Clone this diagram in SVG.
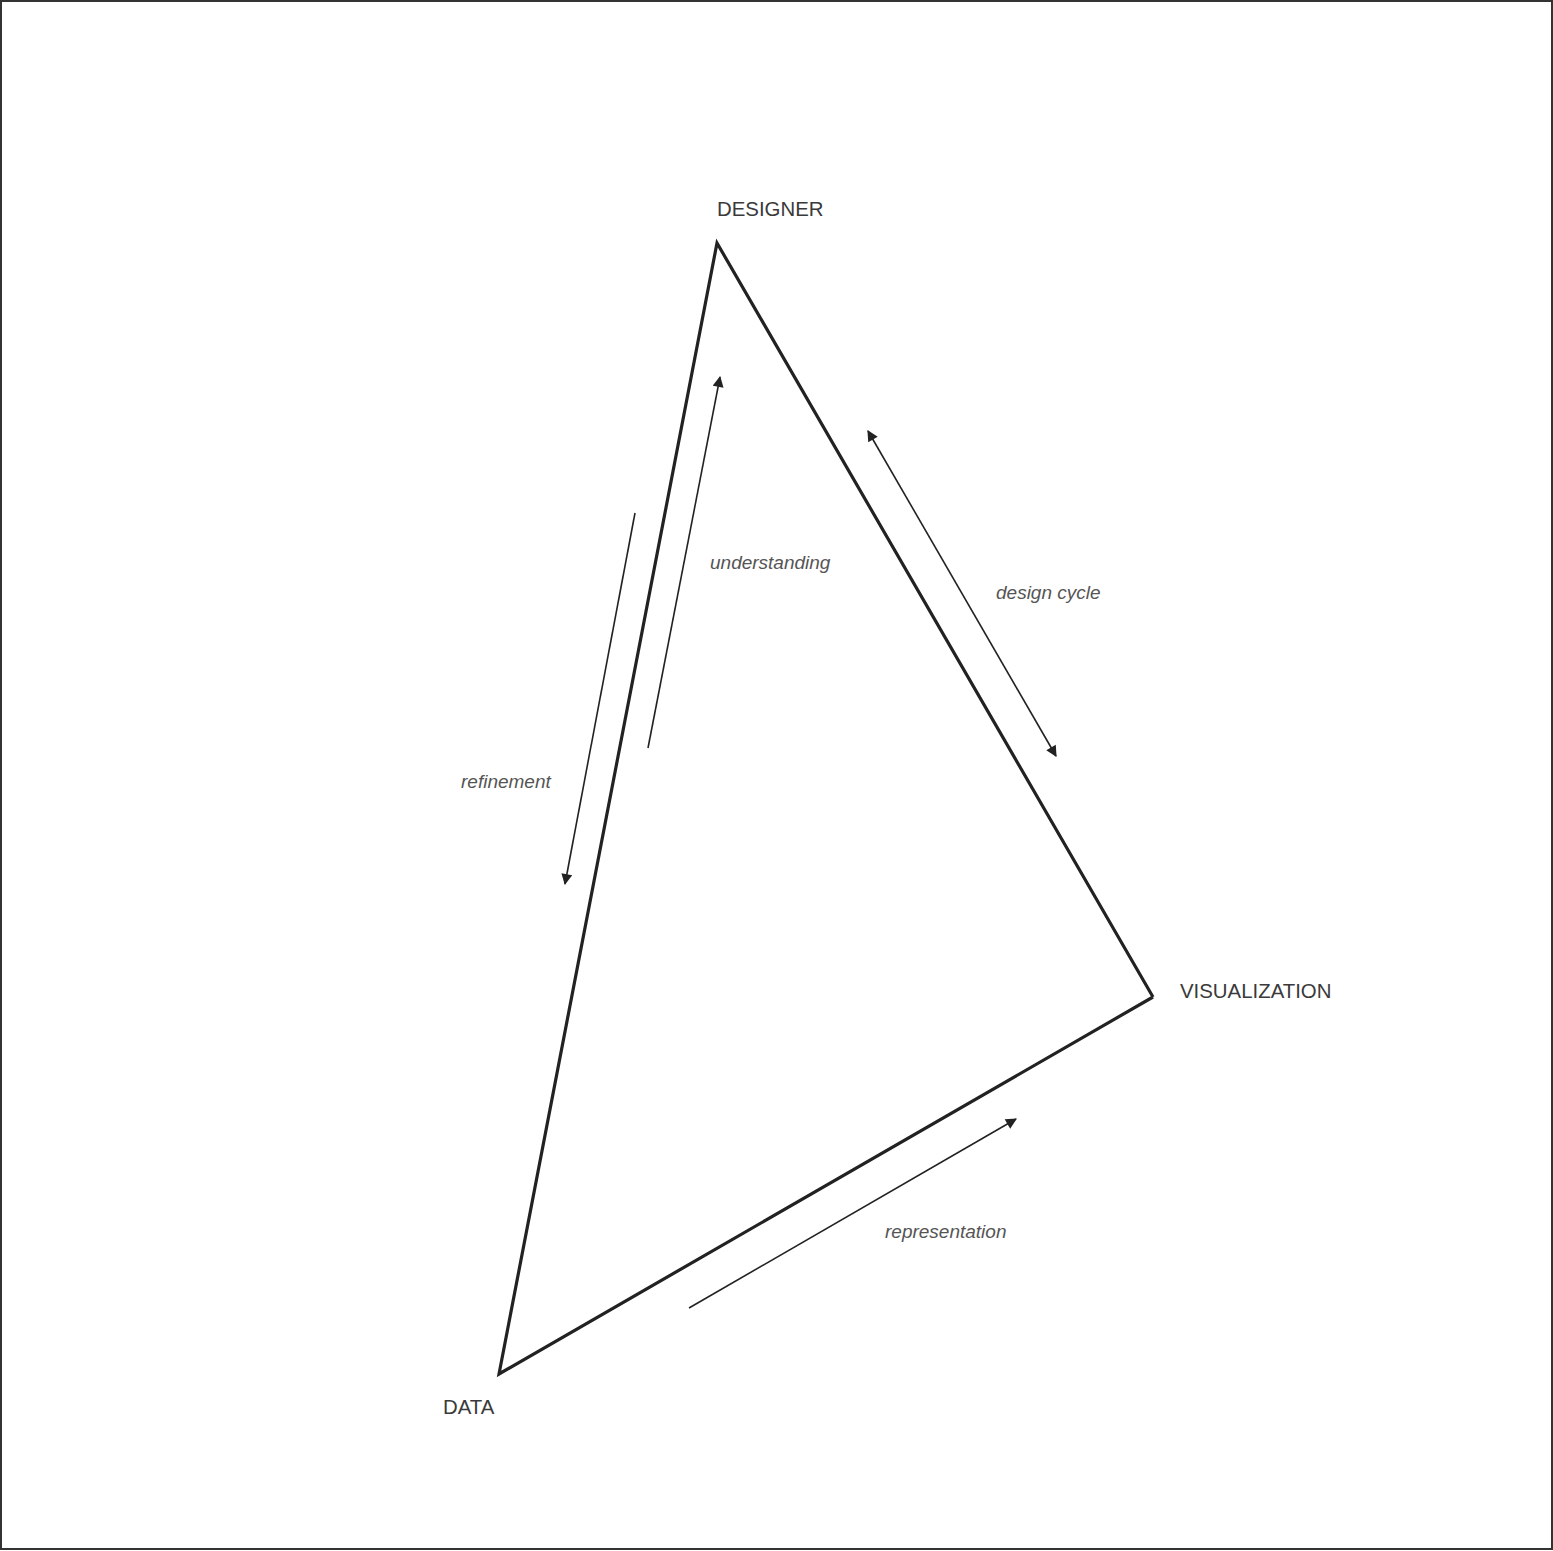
<svg xmlns="http://www.w3.org/2000/svg" width="1553" height="1551" viewBox="0 0 1553 1551">
<style>
.node{font-family:"Liberation Sans",Arial,sans-serif;font-size:20.4px;fill:#3a3a3a}
.lbl{font-family:"Liberation Sans",Arial,sans-serif;font-size:19px;font-style:italic;fill:#555}
.edge{stroke:#222;stroke-width:1.6;fill:none}
.tri{stroke:#222;stroke-width:3.2;fill:none;stroke-linejoin:miter}
</style>
<defs>
<marker id="ah" viewBox="0 0 10 10" refX="9" refY="5" markerWidth="13" markerHeight="11" markerUnits="userSpaceOnUse" orient="auto-start-reverse">
<path d="M0,0 L10,5 L0,10 Z" fill="#222"/>
</marker>
</defs>
<rect x="1" y="1" width="1551" height="1548" fill="#fff" stroke="#333" stroke-width="2"/>
<g id="triangle">
<polyline class="tri" points="1153,997 717,243 499,1374 1153,997"/>
</g>
<g id="designer"><text class="node" x="717" y="216">DESIGNER</text></g>
<g id="visualization"><text class="node" x="1180" y="998">VISUALIZATION</text></g>
<g id="data"><text class="node" x="443" y="1414">DATA</text></g>
<g id="connectors">
<line class="edge" x1="648" y1="748" x2="720" y2="377" marker-end="url(#ah)"/>
<line class="edge" x1="635" y1="513" x2="565" y2="884" marker-end="url(#ah)"/>
<line class="edge" x1="868" y1="431" x2="1056" y2="756" marker-start="url(#ah)" marker-end="url(#ah)"/>
<line class="edge" x1="689" y1="1308" x2="1016" y2="1119" marker-end="url(#ah)"/>
</g>
<g id="labels">
<text class="lbl" x="710" y="569">understanding</text>
<text class="lbl" x="996" y="599">design cycle</text>
<text class="lbl" x="461" y="788">refinement</text>
<text class="lbl" x="885" y="1238">representation</text>
</g>
</svg>
